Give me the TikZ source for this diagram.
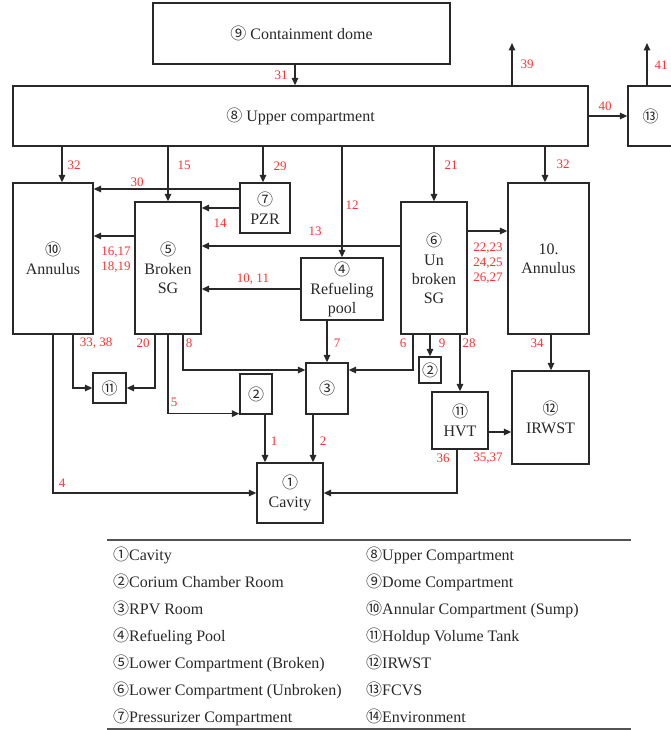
\documentclass[tikz,border=0pt]{standalone}
\usepackage{fontspec}
\setmainfont{Liberation Serif}
\newfontfamily\cjkfont{Noto Sans CJK SC}
\usepackage{xcolor}
\usetikzlibrary{calc,arrows.meta}
\definecolor{numred}{RGB}{250,50,50}
\definecolor{inkgray}{RGB}{40,40,40}
\newcommand{\cnum}[1]{{\cjkfont\ifcase#1\or ①\or ②\or ③\or ④\or ⑤\or ⑥\or ⑦\or ⑧\or ⑨\or ⑩\or ⑪\or ⑫\or ⑬\or ⑭\fi}}
\tikzset{
  room/.style    = {draw=inkgray, line width=1.3pt, inner sep=0pt, align=center,
                    text=inkgray, font=\fontsize{16}{19}\selectfont},
  flow/.style    = {-{Triangle[length=7.5pt,width=6.5pt]}, line width=1.4pt, draw=inkgray},
  rule/.style    = {line width=1.2pt, draw=inkgray!80},
  flowlab/.style = {text=numred, inner sep=0pt, align=center,
                    font=\fontsize{13}{15}\selectfont},
  legtext/.style = {anchor=base west, inner sep=0pt, text=inkgray,
                    font=\fontsize{16}{19}\selectfont},
}

\begin{document}
\begin{tikzpicture}[x=1pt,y=-1pt]
\useasboundingbox (0,0) rectangle (671,730);
% compartments
\node[room, minimum width=297, minimum height=61]  (dome)     at (301.5,33.5)  {\cnum{9} Containment dome};
\node[room, minimum width=575, minimum height=60]  (upper)    at (300.5,116)   {\cnum{8} Upper compartment};
\node[room, minimum width=45,  minimum height=60]  (fcvs)     at (650.5,116)   {\cnum{13}};
\node[room, minimum width=80,  minimum height=151] (annulus)  at (53,258.5)    {\cnum{10}\\Annulus};
\node[room, minimum width=66,  minimum height=132] (broken)   at (168,268)     {\cnum{5}\\Broken\\SG};
\node[room, minimum width=50,  minimum height=50]  (pzr)      at (265,208)     {\cnum{7}\\PZR};
\node[room, minimum width=82,  minimum height=62]  (pool)     at (342,289)     {\cnum{4}\\Refueling\\pool};
\node[room, minimum width=66,  minimum height=132] (unbroken) at (434,268)     {\cnum{6}\\Un\\broken\\SG};
\node[room, minimum width=81,  minimum height=151] (annulus2) at (548.5,258.5) {10.\\Annulus};
\node[room, minimum width=33,  minimum height=30]  (hold)     at (109.5,388)   {\cnum{11}};
\node[room, minimum width=32,  minimum height=40]  (corium)   at (256,394)     {\cnum{2}};
\node[room, minimum width=42,  minimum height=51]  (rpv)      at (327,388.5)   {\cnum{3}};
\node[room, minimum width=22,  minimum height=26]  (corium2)  at (430,370)     {\cnum{2}};
\node[room, minimum width=56,  minimum height=57]  (hvt)      at (460,420.5)   {\cnum{11}\\HVT};
\node[room, minimum width=77,  minimum height=93]  (irwst)    at (550.5,417.5) {\cnum{12}\\IRWST};
\node[room, minimum width=66,  minimum height=60]  (cavity)   at (290,493)     {\cnum{1}\\Cavity};
\coordinate (out39) at (512,43);
\coordinate (out41) at (647,43);

% flow paths
\draw[flow] ([xshift=-6.5]dome.south) -- ([xshift=-6.5]dome.south |- upper.north);
\draw[flow] (upper.north -| out39) -- (out39);
\draw[flow] (fcvs.north -| out41) -- (out41);
\draw[flow] (upper.east) -- (fcvs.west);
\draw[flow] ([xshift=9]annulus.north |- upper.south) -- ([xshift=9]annulus.north);
\draw[flow] (upper.south -| broken.north) -- (broken.north);
\draw[flow] ([xshift=-2]pzr.north |- upper.south) -- ([xshift=-2]pzr.north);
\draw[flow] (upper.south -| pool.north) -- (pool.north);
\draw[flow] (upper.south -| unbroken.north) -- (unbroken.north);
\draw[flow] ([xshift=-3.5]annulus2.north |- upper.south) -- ([xshift=-3.5]annulus2.north);
\draw[flow] ([yshift=19]pzr.west) -- ([yshift=19]pzr.west -| annulus.east);
\draw[flow] (pzr.west) -- (pzr.west -| broken.east);
\draw[flow] ([yshift=22]unbroken.west) -- ([yshift=22]unbroken.west -| broken.east);
\draw[flow] ([yshift=32]broken.west) -- ([yshift=32]broken.west -| annulus.east);
\draw[flow] (pool.west) -- (pool.west -| broken.east);
\draw[flow] ([yshift=37]unbroken.east) -- ([yshift=37]unbroken.east -| annulus2.west);
\draw[flow] ([xshift=2.5]annulus2.south) -- ([xshift=2.5]annulus2.south |- irwst.north);
\draw[flow] (annulus.south) |- (cavity.west);
\draw[flow] ([xshift=20]annulus.south) |- (hold.west);
\draw[flow] ([xshift=-13]broken.south) |- (hold.east);
\draw[flow] (broken.south) |- ([yshift=1]corium.south west);
\draw[flow] ([xshift=15]broken.south) |- ([yshift=18.5]rpv.west);
\draw[flow] (pool.south -| rpv.north) -- (rpv.north);
\draw[flow] ([xshift=-21]unbroken.south) |- ([yshift=18.5]rpv.east);
\draw[flow] (unbroken.south -| corium2.north) -- (corium2.north);
\draw[flow] (unbroken.south -| hvt.north) -- (hvt.north);
\draw[flow] ([yshift=-11.5]hvt.east) -- ([yshift=-11.5]hvt.east -| irwst.west);
\draw[flow] ([xshift=-3]hvt.south) |- (cavity.east);
\draw[flow] ([xshift=9]corium.south) -- ([xshift=9]corium.south |- cavity.north);
\draw[flow] ([xshift=-14]rpv.south) -- ([xshift=-14]rpv.south |- cavity.north);

% path numbers
\node[flowlab] (l31) at (281,75)    {31};
\node[flowlab] (l39) at (527,64)    {39};
\node[flowlab] (l41) at (661,65)    {41};
\node[flowlab] (l40) at (605,106)   {40};
\node[flowlab] (l32) at (74,165)    {32};
\node[flowlab] (l15) at (184,165)   {15};
\node[flowlab] (l29) at (280,166)   {29};
\node[flowlab] (l12) at (352,205)   {12};
\node[flowlab] (l21) at (451,165)   {21};
\node[flowlab] (l32b) at (563,164)  {32};
\node[flowlab] (l30) at (137,182)   {30};
\node[flowlab] (l14) at (220,223)   {14};
\node[flowlab] (l13) at (315,231)   {13};
\node[flowlab] (l16) at (116,259.5) {16,17\\18,19};
\node[flowlab] (l10) at (253,279)   {10, 11};
\node[flowlab] (l22) at (488,263.5) {22,23\\24,25\\26,27};
\node[flowlab] (l34) at (537,343)   {34};
\node[flowlab] (l4)  at (62,483)    {4};
\node[flowlab] (l33) at (96,343)    {33, 38};
\node[flowlab] (l20) at (143,343)   {20};
\node[flowlab] (l5)  at (174,402)   {5};
\node[flowlab] (l8)  at (189,343)   {8};
\node[flowlab] (l7)  at (337,343)   {7};
\node[flowlab] (l6)  at (403,343)   {6};
\node[flowlab] (l9)  at (442,343)   {9};
\node[flowlab] (l28) at (469,343)   {28};
\node[flowlab] (l35) at (488,458)   {35,37};
\node[flowlab] (l36) at (443,458)   {36};
\node[flowlab] (l1)  at (274,441)   {1};
\node[flowlab] (l2)  at (323,441)   {2};

% legend
\draw[rule] (107,540) -- (631,540);
\draw[rule] (107,729) -- (631,729);
\foreach \k/\txt in {1/Cavity, 2/Corium Chamber Room, 3/RPV Room, 4/Refueling Pool,
                     5/Lower Compartment (Broken), 6/Lower Compartment (Unbroken),
                     7/Pressurizer Compartment}
  \node[legtext] (leg\k) at (113,533.5+27*\k) {\cnum{\k}\txt};
\foreach \k/\txt in {8/Upper Compartment, 9/Dome Compartment, 10/Annular Compartment (Sump),
                     11/Holdup Volume Tank, 12/IRWST, 13/FCVS, 14/Environment}
  \node[legtext] (leg\k) at (366,344.5+27*\k) {\cnum{\k}\txt};
\end{tikzpicture}
\end{document}
